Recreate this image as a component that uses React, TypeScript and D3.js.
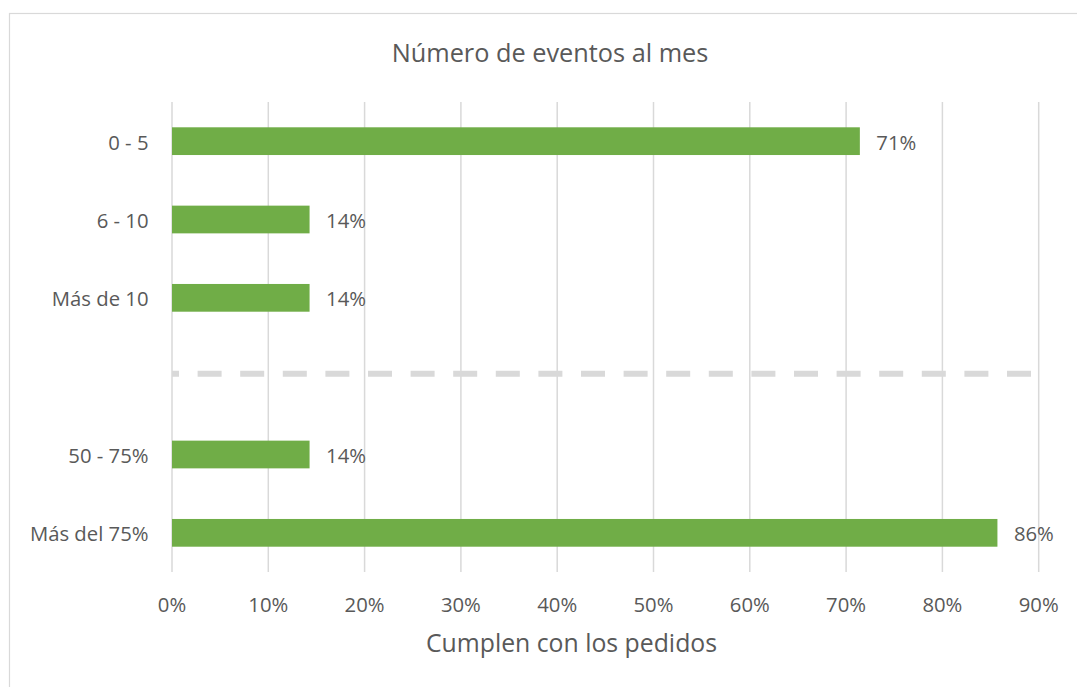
import React from "react";
import * as d3 from "d3";

const categories = ["0 - 5", "6 - 10", "Más de 10", "", "50 - 75%", "Más del 75%"];
const values: (number | null)[] = [5 / 7, 1 / 7, 1 / 7, null, 1 / 7, 6 / 7];
const valueLabels = ["71%", "14%", "14%", "", "14%", "86%"];
const xTicks = [0, 0.1, 0.2, 0.3, 0.4, 0.5, 0.6, 0.7, 0.8, 0.9];
const separatorIndex = 3.47; // position of dashed separator, in category units
const title = "Número de eventos al mes";
const axisTitle = "Cumplen con los pedidos";

const W = 1077;
const H = 687;
const FONT = "'Open Sans', 'DejaVu Sans', sans-serif";
const TEXT = "#595959";
const GRID = "#d9d9d9";
const BAR = "#70ad47";

export default function App() {
  const plotLeft = 172;
  const plotRight = 1038.7;
  const plotTop = 102;
  const plotBottom = 572;

  const x = d3.scaleLinear().domain([0, 0.9]).range([plotLeft, plotRight]);
  const y = d3
    .scaleBand<string>()
    .domain(categories.map((c, i) => String(i)))
    .range([plotTop, plotBottom])
    .paddingInner(0.646)
    .paddingOuter(0.323);
  const yIdx = d3.scaleLinear().domain([0, categories.length]).range([plotTop, plotBottom]);
  const sepY = yIdx(separatorIndex);
  const bw = y.bandwidth();

  return (
    <svg
      width={W}
      height={H}
      style={{ position: "absolute", left: 0, top: 0, background: "#fff" }}
      fontFamily={FONT}
    >
      <rect x={9.5} y={13.5} width={1200} height={800} fill="#fff" stroke={GRID} strokeWidth={1.2} />
      <text x={550} y={62} textAnchor="middle" fontSize={25.3} fill={TEXT}>
        {title}
      </text>
      {xTicks.map((t) => (
        <line key={t} x1={x(t)} x2={x(t)} y1={plotTop} y2={plotBottom} stroke={GRID} strokeWidth={1.5} />
      ))}
      <line
        x1={x(0)}
        x2={x(0.9)}
        y1={sepY}
        y2={sepY}
        stroke={GRID}
        strokeWidth={6}
        strokeDasharray="24 18.6"
        strokeDashoffset={17}
      />
      {categories.map((c, i) => {
        const v = values[i];
        const cy = (y(String(i)) as number) + bw / 2;
        return (
          <g key={i}>
            {c && (
              <text x={148.5} y={cy + 8.5} textAnchor="end" fontSize={20.3} fill={TEXT}>
                {c}
              </text>
            )}
            {v !== null && (
              <>
                <rect x={x(0)} y={y(String(i))} width={x(v) - x(0)} height={bw} fill={BAR} />
                <text x={x(v) + 16.5} y={cy + 8.5} fontSize={20.3} fill={TEXT}>
                  {valueLabels[i]}
                </text>
              </>
            )}
          </g>
        );
      })}
      {xTicks.map((t) => (
        <text key={"l" + t} x={x(t)} y={612} textAnchor="middle" fontSize={20.3} fill={TEXT}>
          {d3.format(".0%")(t)}
        </text>
      ))}
      <text x={571.5} y={652} textAnchor="middle" fontSize={24.8} fill={TEXT}>
        {axisTitle}
      </text>
    </svg>
  );
}
